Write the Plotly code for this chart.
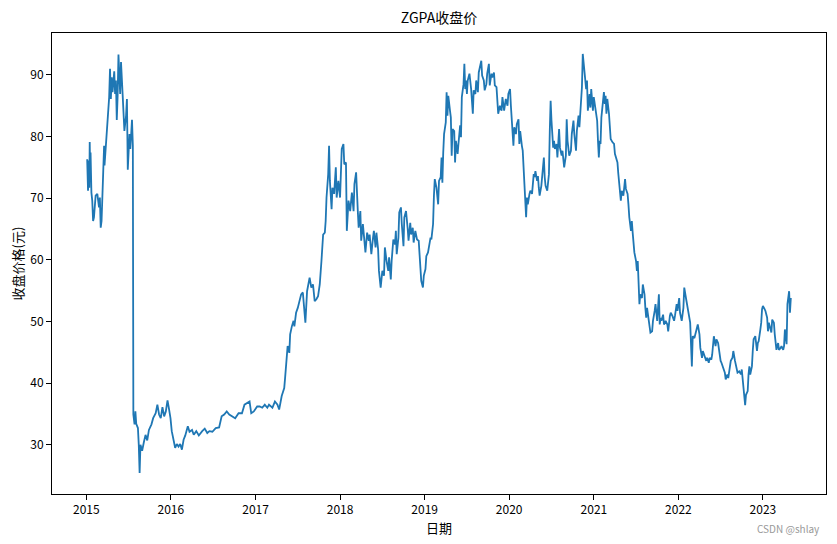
import numpy as np
import pandas as pd
import plotly.graph_objects as go

# Decimal-year positions and closing prices
t_years = [
    2015.01, 2015.02, 2015.03, 2015.035, 2015.04, 2015.045, 2015.05, 2015.06, 2015.07, 2015.08,
    2015.09, 2015.11, 2015.13, 2015.15, 2015.16, 2015.17, 2015.18, 2015.20, 2015.21, 2015.215,
    2015.23, 2015.24, 2015.25, 2015.27, 2015.28, 2015.29, 2015.30, 2015.31, 2015.33, 2015.34,
    2015.35, 2015.36, 2015.37, 2015.38, 2015.40, 2015.41, 2015.43, 2015.44, 2015.45, 2015.47,
    2015.48, 2015.49, 2015.51, 2015.52, 2015.53, 2015.54, 2015.55, 2015.556, 2015.57, 2015.58,
    2015.59, 2015.61, 2015.62, 2015.63, 2015.64, 2015.66, 2015.68, 2015.70, 2015.72, 2015.74,
    2015.77, 2015.79, 2015.82, 2015.84, 2015.86, 2015.88, 2015.90, 2015.92, 2015.94, 2015.96,
    2015.975, 2015.995, 2016.01, 2016.03, 2016.05, 2016.07, 2016.09, 2016.11, 2016.13, 2016.15,
    2016.17, 2016.20, 2016.22, 2016.25, 2016.27, 2016.30, 2016.33, 2016.37, 2016.40, 2016.43,
    2016.455, 2016.49, 2016.53, 2016.57,
    2016.60, 2016.63, 2016.66, 2016.69, 2016.72, 2016.76, 2016.80, 2016.84, 2016.87, 2016.90,
    2016.93, 2016.95, 2016.98, 2017.02, 2017.05, 2017.08, 2017.11, 2017.14, 2017.16, 2017.20,
    2017.23, 2017.26, 2017.28, 2017.31, 2017.34, 2017.35, 2017.37, 2017.38, 2017.40, 2017.41,
    2017.43, 2017.45, 2017.46, 2017.48, 2017.50, 2017.52, 2017.54, 2017.56, 2017.57, 2017.59,
    2017.61, 2017.64, 2017.66, 2017.68, 2017.70, 2017.72, 2017.74, 2017.76, 2017.78, 2017.80,
    2017.82, 2017.83, 2017.84, 2017.86, 2017.87, 2017.88, 2017.90, 2017.91, 2017.93, 2017.95,
    2017.96, 2017.98, 2018.00, 2018.02, 2018.04, 2018.05, 2018.07, 2018.08, 2018.10, 2018.12,
    2018.14, 2018.16, 2018.17, 2018.19,
    2018.21, 2018.22, 2018.24, 2018.25, 2018.27, 2018.28, 2018.30, 2018.32, 2018.34, 2018.35,
    2018.37, 2018.39, 2018.40, 2018.42, 2018.43, 2018.45, 2018.46, 2018.48, 2018.49, 2018.50,
    2018.52, 2018.53, 2018.55, 2018.57, 2018.58, 2018.60, 2018.61, 2018.63, 2018.65, 2018.66,
    2018.67, 2018.69, 2018.70, 2018.72, 2018.73, 2018.75, 2018.76, 2018.78, 2018.80, 2018.81,
    2018.83, 2018.84, 2018.86, 2018.87, 2018.89, 2018.91, 2018.93, 2018.95, 2018.96, 2018.98,
    2018.99, 2019.01, 2019.02, 2019.04, 2019.05, 2019.07, 2019.08, 2019.10, 2019.11, 2019.12,
    2019.14, 2019.16, 2019.17, 2019.19, 2019.20, 2019.21, 2019.22, 2019.23, 2019.25, 2019.26,
    2019.27, 2019.28, 2019.30, 2019.31, 2019.32, 2019.33, 2019.35, 2019.36, 2019.37, 2019.39,
    2019.40, 2019.42, 2019.43, 2019.44, 2019.46, 2019.47, 2019.48, 2019.49, 2019.50, 2019.51,
    2019.53, 2019.55, 2019.57, 2019.58, 2019.60, 2019.61, 2019.63, 2019.64, 2019.67, 2019.68,
    2019.70, 2019.71, 2019.73, 2019.74, 2019.76, 2019.77, 2019.79,
    2019.80, 2019.82, 2019.83, 2019.85, 2019.87, 2019.89, 2019.91, 2019.92, 2019.94, 2019.96,
    2019.98, 2019.99, 2020.01, 2020.02, 2020.04, 2020.05, 2020.06, 2020.08, 2020.09, 2020.11,
    2020.12, 2020.13, 2020.15, 2020.16, 2020.18, 2020.19, 2020.20, 2020.21, 2020.22, 2020.24,
    2020.25, 2020.27, 2020.29, 2020.30, 2020.31, 2020.33, 2020.34, 2020.35, 2020.36, 2020.38,
    2020.39, 2020.41, 2020.42, 2020.43, 2020.45, 2020.47, 2020.48, 2020.49, 2020.50, 2020.52,
    2020.53, 2020.54, 2020.56, 2020.57, 2020.59, 2020.60, 2020.62, 2020.63, 2020.65, 2020.67,
    2020.68, 2020.69, 2020.71, 2020.73, 2020.74, 2020.76, 2020.77, 2020.79, 2020.80, 2020.82,
    2020.83, 2020.85, 2020.86, 2020.87, 2020.88, 2020.90, 2020.91, 2020.92, 2020.93, 2020.95,
    2020.96, 2020.97, 2020.99, 2021.00,
    2021.02, 2021.04, 2021.05, 2021.06, 2021.07, 2021.08, 2021.09, 2021.11, 2021.12, 2021.13,
    2021.14, 2021.15, 2021.16, 2021.18, 2021.19, 2021.20, 2021.22, 2021.24, 2021.25, 2021.27,
    2021.28, 2021.29, 2021.31, 2021.32, 2021.33, 2021.35, 2021.36, 2021.37, 2021.38, 2021.40,
    2021.41, 2021.42, 2021.44, 2021.45, 2021.46, 2021.47, 2021.48, 2021.50, 2021.51, 2021.52,
    2021.53, 2021.54, 2021.55, 2021.57, 2021.58, 2021.60, 2021.61, 2021.62, 2021.63, 2021.65,
    2021.66, 2021.67, 2021.69, 2021.70, 2021.72, 2021.73, 2021.75, 2021.77, 2021.78, 2021.79,
    2021.80, 2021.82, 2021.83, 2021.85, 2021.87, 2021.88, 2021.90, 2021.91, 2021.93, 2021.95,
    2021.96, 2021.98, 2021.99, 2022.01, 2022.02, 2022.04, 2022.06, 2022.07, 2022.09, 2022.10,
    2022.12, 2022.14,
    2022.16, 2022.17, 2022.19, 2022.21, 2022.23, 2022.25, 2022.26, 2022.28, 2022.29, 2022.31,
    2022.33, 2022.34, 2022.36, 2022.37, 2022.39, 2022.40, 2022.42, 2022.44, 2022.45, 2022.47,
    2022.48, 2022.50, 2022.51, 2022.53, 2022.55, 2022.56, 2022.58, 2022.59, 2022.61, 2022.62,
    2022.64, 2022.65, 2022.67, 2022.69, 2022.70, 2022.72, 2022.74, 2022.75, 2022.77, 2022.78,
    2022.79, 2022.80, 2022.82, 2022.83, 2022.84, 2022.85, 2022.87, 2022.88, 2022.89, 2022.91,
    2022.92, 2022.93, 2022.94, 2022.95, 2022.97, 2022.98, 2022.99, 2023.00, 2023.02, 2023.03,
    2023.05, 2023.06, 2023.07, 2023.08, 2023.10, 2023.11, 2023.13, 2023.14, 2023.15, 2023.16,
    2023.18, 2023.19, 2023.21, 2023.22, 2023.24, 2023.25, 2023.26, 2023.28, 2023.29, 2023.30,
    2023.31, 2023.32, 2023.33,
]

close_price = [
    76.3, 71.2, 76.1, 71.7, 79.1, 74.4, 77.4, 70.9, 69.6, 66.3,
    66.9, 70.4, 70.7, 68.5, 70.1, 65.2, 66.3, 74.4, 78.5, 75.3,
    78.2, 79.9, 82.8, 86.4, 91.0, 86.1, 89.6, 87.2, 90.6, 86.9,
    89.1, 82.7, 86.6, 93.3, 86.9, 92.1, 86.6, 84.2, 80.9, 83.4,
    86.1, 74.6, 80.4, 78.0, 80.9, 82.7, 78.5, 34.9, 33.3, 35.4,
    33.4, 32.7, 30.0, 25.4, 30.0, 29.0, 30.4, 31.6, 30.7, 32.4,
    33.3, 34.3, 35.1, 36.5, 34.9, 34.3, 36.1, 34.6, 35.4, 37.2,
    36.0, 34.3, 32.2, 31.0, 29.5, 30.1, 29.7, 30.1, 29.2, 30.8,
    31.5, 33.0, 32.1, 32.4, 31.6, 32.2, 31.5, 32.2, 32.6, 31.9,
    32.2, 32.1, 32.7, 32.8,
    34.6, 34.9, 35.4, 34.9, 34.6, 34.3, 35.1, 35.1, 36.5, 36.8,
    37.0, 35.1, 35.4, 36.2, 36.2, 36.0, 36.5, 36.0, 36.5, 36.0,
    37.0, 36.5, 35.7, 37.9, 39.2, 40.8, 45.2, 46.0, 44.9, 47.9,
    49.2, 50.1, 49.2, 51.4, 52.2, 53.3, 54.4, 54.7, 52.5, 49.8,
    54.9, 57.1, 55.5, 56.0, 53.3, 53.6, 54.1, 56.0, 59.8, 64.1,
    64.4, 66.3, 70.1, 73.9, 78.5, 72.8, 68.2, 71.7, 70.7, 75.0,
    70.1, 72.8, 70.1, 78.0, 78.8, 75.5, 75.8, 64.7, 69.6, 67.9,
    70.9, 67.9, 72.3, 74.2,
    67.9, 65.2, 67.9, 63.1, 65.8, 64.1, 61.2, 64.4, 63.1, 64.1,
    60.9, 63.6, 64.7, 62.0, 64.4, 61.7, 58.2, 55.5, 57.4, 58.2,
    57.4, 62.0, 59.8, 58.2, 60.4, 56.8, 59.8, 63.3, 62.5, 64.7,
    60.9, 63.6, 67.7, 68.5, 65.8, 62.2, 66.9, 67.9, 65.0, 63.1,
    66.0, 64.1, 65.2, 62.8, 64.7, 63.3, 63.1, 59.3, 56.6, 55.5,
    57.4, 58.5, 60.6, 61.2, 62.0, 63.6, 63.3, 65.8, 70.4, 73.1,
    71.7, 69.0, 72.8, 73.4, 76.6, 72.5, 77.4, 80.4, 82.3, 87.2,
    83.4, 86.6, 84.2, 83.1, 76.9, 81.2, 80.9, 75.8, 79.3, 77.2,
    78.8, 81.8, 79.9, 86.4, 88.5, 91.8, 87.7, 89.1, 86.9, 89.1,
    90.2, 87.7, 83.7, 87.5, 86.9, 89.1, 87.2, 90.4, 92.3, 89.9,
    89.1, 87.5, 88.5, 90.2, 91.8, 88.3, 90.2,
    89.6, 90.4, 88.3, 88.0, 83.7, 85.0, 84.2, 86.4, 84.2, 86.1,
    85.0, 86.9, 87.7, 85.0, 80.9, 78.5, 81.5, 80.4, 82.0, 82.8,
    78.8, 80.9, 78.5, 77.7, 72.3, 69.0, 66.9, 70.1, 69.0, 70.7,
    71.2, 70.7, 73.9, 73.4, 74.4, 72.8, 73.6, 71.7, 70.4, 72.0,
    73.4, 76.6, 73.4, 72.0, 71.2, 73.9, 80.9, 85.8, 82.6, 78.2,
    79.3, 78.0, 78.8, 76.6, 81.2, 78.2, 76.9, 77.7, 75.0, 76.9,
    82.8, 79.3, 76.9, 77.7, 80.4, 82.6, 80.4, 77.7, 80.9, 83.4,
    81.5, 85.8, 88.0, 93.4, 92.1, 89.6, 87.7, 89.1, 84.2, 86.9,
    84.7, 87.7, 84.2, 86.4,
    84.2, 82.6, 79.3, 76.6, 79.3, 78.8, 83.1, 85.3, 87.2, 85.3,
    86.6, 83.7, 86.1, 83.7, 80.4, 79.6, 79.1, 78.8, 77.2, 76.1,
    75.8, 74.0, 71.5, 69.6, 71.2, 70.4, 71.7, 73.1, 71.5, 70.7,
    69.0, 66.9, 64.7, 66.3, 64.4, 62.8, 61.2, 59.8, 58.2, 59.8,
    55.7, 52.8, 54.4, 53.8, 56.0, 54.4, 52.2, 50.6, 52.2, 50.3,
    49.8, 48.2, 48.4, 50.1, 51.7, 52.8, 50.1, 54.4, 49.5, 50.6,
    50.1, 51.1, 49.5, 50.1, 49.5, 48.4, 50.9, 51.4, 50.9, 50.1,
    50.9, 52.8, 51.7, 53.8, 51.4, 50.1, 52.2, 55.5, 53.8, 53.0,
    51.1, 49.8,
    42.7, 47.6, 47.3, 48.4, 49.5, 47.9, 45.7, 44.1, 45.2, 44.4,
    43.6, 44.1, 43.3, 44.1, 43.8, 44.6, 47.6, 46.0, 47.1, 46.5,
    45.4, 43.6, 43.3, 42.5, 41.7, 40.6, 41.4, 40.8, 43.0, 43.6,
    44.1, 45.2, 43.6, 42.5, 41.7, 41.9, 41.4, 42.2, 39.8, 37.9,
    36.4, 38.1, 38.7, 41.4, 42.7, 41.4, 42.7, 45.2, 47.1, 47.6,
    46.3, 45.2, 46.5, 46.8, 48.7, 49.8, 52.0, 52.5, 52.0, 51.7,
    50.6, 48.4, 49.8, 49.2, 48.2, 50.3, 49.8, 47.9, 46.3, 45.4,
    46.5, 45.4, 45.7, 46.0, 45.4, 46.0, 48.7, 46.3, 52.8, 54.1,
    54.9, 51.4, 53.8,
]

x_tick_years = [2015, 2016, 2017, 2018, 2019, 2020, 2021, 2022, 2023]
y_tick_values = [30, 40, 50, 60, 70, 80, 90]

title_text = "ZGPA收盘价"
x_label = "日期"
y_label = "收盘价格(元)"
watermark = "CSDN @shlay"

# convert decimal years to timestamps
base = pd.Timestamp("2015-01-01")
dates = base + pd.to_timedelta((np.array(t_years) - 2015.0) * 365.25, unit="D")
prices = np.array(close_price)

# matplotlib-like 5% auto margins
span = dates.max() - dates.min()
x_range = [dates.min() - span * 0.05, dates.max() + span * 0.05]
yspan = prices.max() - prices.min()
y_range = [prices.min() - 0.05 * yspan, prices.max() + 0.05 * yspan]

tick_dates = [pd.Timestamp(f"{y}-01-01") for y in x_tick_years]

FONT = "Noto Sans CJK SC, Noto Sans, DejaVu Sans, sans-serif"

fig = go.Figure()
fig.add_trace(go.Scatter(
    x=dates, y=prices, mode="lines",
    line=dict(color="#1f77b4", width=1.8),
    showlegend=False,
))

fig.update_layout(
    width=837, height=544,
    margin=dict(l=52, r=11, t=33, b=50),
    paper_bgcolor="white", plot_bgcolor="white",
    font=dict(family=FONT, size=12, color="black"),
    title=dict(text=title_text, x=0.5, xref="paper", y=1 - 18 / 544,
               yref="container", xanchor="center", yanchor="middle",
               font=dict(size=14, family=FONT, color="black")),
)

fig.update_xaxes(
    type="date", range=x_range,
    tickmode="array", tickvals=tick_dates, ticktext=[str(y) for y in x_tick_years],
    showgrid=False, zeroline=False,
    showline=True, linecolor="black", linewidth=1, mirror=True,
    ticks="outside", ticklen=5, tickcolor="black", tickwidth=1,
    tickfont=dict(size=12, family=FONT),
)
fig.update_yaxes(
    range=y_range,
    tickmode="array", tickvals=y_tick_values, ticktext=[str(v) for v in y_tick_values],
    showgrid=False, zeroline=False,
    showline=True, linecolor="black", linewidth=1, mirror=True,
    ticks="outside", ticklen=5, tickcolor="black", tickwidth=1,
    tickfont=dict(size=12, family=FONT),
)

fig.add_annotation(text=x_label, xref="paper", yref="paper", x=0.5, y=-(527 - 494) / 461,
                   showarrow=False, xanchor="center", yanchor="middle",
                   font=dict(size=13, family=FONT, color="black"))
fig.add_annotation(text=y_label, xref="paper", yref="paper", x=-(52 - 17) / 774, y=0.5,
                   showarrow=False, xanchor="center", yanchor="middle", textangle=-90,
                   font=dict(size=13, family=FONT, color="black"))
fig.add_annotation(text=watermark, xref="paper", yref="paper", x=(822 - 52) / 774,
                   y=-(528 - 494) / 461, showarrow=False, xanchor="right", yanchor="middle",
                   font=dict(size=10, family=FONT, color="#999999"))

fig.write_html("out.html")
